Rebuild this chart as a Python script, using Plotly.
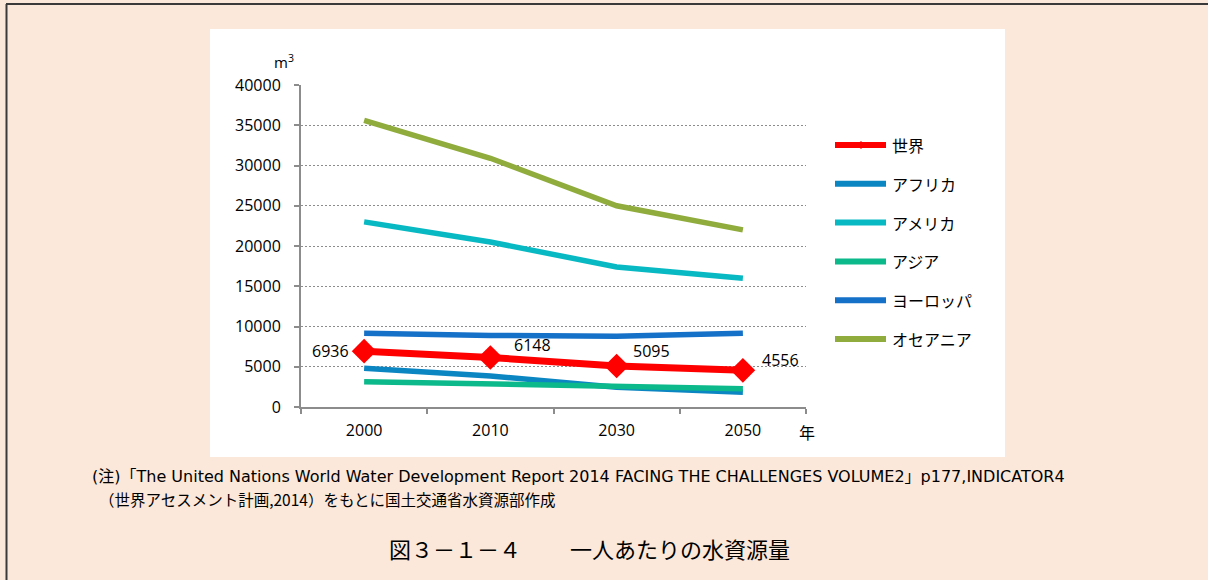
import plotly.graph_objects as go

# Per-capita water resources by region (m3 per person)
years = ["2000", "2010", "2030", "2050"]
world = [6936, 6148, 5095, 4556]
africa = [4800, 3850, 2450, 1830]
america = [23000, 20500, 17400, 16000]
asia = [3150, 2850, 2500, 2270]
europe = [9150, 8880, 8800, 9150]
oceania = [35600, 30900, 25000, 22000]

legend_names = ["世界", "アフリカ", "アメリカ", "アジア", "ヨーロッパ", "オセアニア"]
colors = {
    "世界": "#FF0000",
    "アフリカ": "#0C86C2",
    "アメリカ": "#08B9C3",
    "アジア": "#0CB98A",
    "ヨーロッパ": "#1570C8",
    "オセアニア": "#8FAC3C",
}
y_ticks = [0, 5000, 10000, 15000, 20000, 25000, 30000, 35000, 40000]

W, H = 1208, 580
NUM_FONT = "Open Sans, Noto Sans, sans-serif"
JP_FONT = "Noto Sans CJK JP, sans-serif"
NOTE_FONT = "DejaVu Sans, Noto Sans CJK JP, sans-serif"


def px(x):
    return x / W


def py(y):
    return 1 - y / H


fig = go.Figure()

series = [
    ("アフリカ", africa),
    ("アメリカ", america),
    ("アジア", asia),
    ("ヨーロッパ", europe),
    ("オセアニア", oceania),
]
for name, vals in series:
    fig.add_trace(go.Scatter(
        x=years, y=vals, name=name, mode="lines",
        line=dict(color=colors[name], width=5.5),
        showlegend=False, hoverinfo="skip",
    ))

fig.add_trace(go.Scatter(
    x=years, y=world, name="世界", mode="lines+markers",
    line=dict(color=colors["世界"], width=7),
    marker=dict(symbol="diamond", size=19, color=colors["世界"]),
    showlegend=False, hoverinfo="skip",
))

# Value labels on the world series (x given as category index)
label_pos = [
    dict(xanchor="right", yanchor="middle", xshift=-13, yshift=0),
    dict(xanchor="left", yanchor="bottom", xshift=22, yshift=0),
    dict(xanchor="left", yanchor="bottom", xshift=14, yshift=2),
    dict(xanchor="left", yanchor="middle", xshift=17, yshift=10),
]
annotations = []
for i, (v, pos) in enumerate(zip(world, label_pos)):
    annotations.append(dict(
        x=i, y=v, xref="x", yref="y", text=str(v), showarrow=False,
        font=dict(family=NUM_FONT, size=16, color="#000000"), **pos,
    ))

# Unit and axis captions
annotations.append(dict(x=px(284), y=py(62), xref="paper", yref="paper", text="m<sup>3</sup>",
                        showarrow=False, xanchor="center", yanchor="middle",
                        font=dict(family=NUM_FONT, size=15, color="#000000")))
annotations.append(dict(x=px(807), y=py(432), xref="paper", yref="paper", text="年",
                        showarrow=False, xanchor="center", yanchor="middle",
                        font=dict(family=JP_FONT, size=16, color="#000000")))

shapes = [
    # white chart panel
    dict(type="rect", xref="paper", yref="paper", x0=px(210), x1=px(1005), y0=py(457), y1=py(29),
         fillcolor="#FFFFFF", line=dict(width=0), layer="below"),
    # page frame
    dict(type="line", xref="paper", yref="paper", x0=px(6), x1=1, y0=py(4), y1=py(4),
         line=dict(color="#3A3A3A", width=2)),
    dict(type="line", xref="paper", yref="paper", x0=px(6.5), x1=px(6.5), y0=py(4), y1=0,
         line=dict(color="#3A3A3A", width=2)),
]

# Legend drawn as line swatches with labels
leg_y0, leg_dy = 145, 38.8
for i, name in enumerate(legend_names):
    yy = leg_y0 + i * leg_dy
    shapes.append(dict(type="line", xref="paper", yref="paper", x0=px(835), x1=px(886),
                       y0=py(yy), y1=py(yy),
                       line=dict(color=colors[name], width=6)))
    if name == "世界":
        cx, r = 861, 4
        shapes.append(dict(type="path", xref="paper", yref="paper",
                           path=f"M {px(cx - r)},{py(yy)} L {px(cx)},{py(yy - r)} L {px(cx + r)},{py(yy)} L {px(cx)},{py(yy + r)} Z",
                           fillcolor=colors[name], line=dict(width=0)))
    annotations.append(dict(x=px(890), y=py(yy), xref="paper", yref="paper", text=name,
                            showarrow=False, xanchor="left", yanchor="middle",
                            font=dict(family=JP_FONT, size=16, color="#000000")))

# Source note and figure caption
annotations.append(dict(
    x=px(90), y=py(476.5), xref="paper", yref="paper", showarrow=False,
    xanchor="left", yanchor="middle",
    text="(注)「The United Nations World Water Development Report 2014 FACING THE CHALLENGES VOLUME2」p177,INDICATOR4",
    font=dict(family=NOTE_FONT, size=16, color="#000000")))
annotations.append(dict(
    x=px(97), y=py(499), xref="paper", yref="paper", showarrow=False,
    xanchor="left", yanchor="middle",
    text="（世界アセスメント計画,2014）をもとに国土交通省水資源部作成",
    font=dict(family=JP_FONT, size=15.5, color="#000000")))
annotations.append(dict(
    x=px(589), y=py(548), xref="paper", yref="paper", showarrow=False,
    xanchor="center", yanchor="middle",
    text="図３－１－４　　 一人あたりの水資源量",
    font=dict(family=JP_FONT, size=22, color="#000000")))

fig.update_layout(
    width=W, height=H,
    autosize=False,
    margin=dict(l=0, r=0, t=0, b=0, pad=0),
    paper_bgcolor="#FBE8DA",
    plot_bgcolor="rgba(0,0,0,0)",
    showlegend=False,
    shapes=shapes,
    annotations=annotations,
    xaxis=dict(
        domain=[px(301), px(806)],
        type="category", categoryorder="array", categoryarray=years,
        range=[-0.5, 3.5],
        automargin=False,
        showgrid=False, zeroline=False,
        showline=True, linecolor="#8C8C8C", linewidth=2,
        ticks="outside", tickson="boundaries", ticklen=5, tickwidth=1.5, tickcolor="#8C8C8C",
        ticklabelstandoff=8,
        tickfont=dict(family=NUM_FONT, size=16, color="#000000"),
    ),
    yaxis=dict(
        domain=[py(407), py(85)],
        range=[0, 40000],
        automargin=False,
        tickvals=y_ticks, ticktext=[str(t) for t in y_ticks],
        showgrid=True, gridcolor="#8C8C8C", gridwidth=1, griddash="2px,2px",
        zeroline=False,
        showline=True, linecolor="#8C8C8C", linewidth=2,
        ticks="outside", ticklen=5, tickwidth=1.5, tickcolor="#8C8C8C",
        ticklabelstandoff=10,
        tickfont=dict(family=NUM_FONT, size=16, color="#000000"),
    ),
)

fig.write_html("out.html")
